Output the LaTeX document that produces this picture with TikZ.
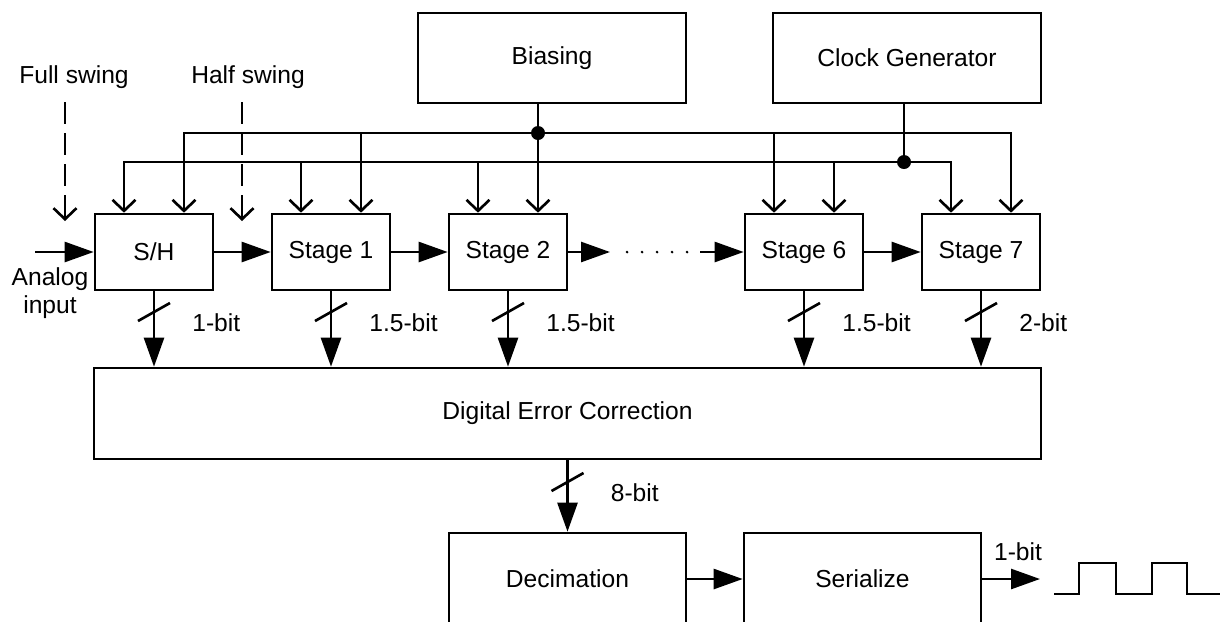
\documentclass[tikz,border=0pt]{standalone}
\usepackage{fontspec}
\setmainfont{Liberation Sans}
\usetikzlibrary{arrows.meta}
\begin{document}
\begin{tikzpicture}[x=0.2mm, y=-0.2mm, line width=1.5pt, font=\fontsize{14pt}{16pt}\selectfont,
  blk/.style={draw, inner sep=0pt, minimum width=23.6mm, minimum height=15.2mm},
  big/.style={draw, inner sep=0pt, minimum width=53.6mm, minimum height=18mm},
  low/.style={draw, inner sep=0pt, minimum width=47.4mm, minimum height=18.4mm},
  fwd/.style={-{Triangle[length=5.8mm, width=4mm]}},
  clk/.style={-{Straight Barb[length=2.2mm, width=4.6mm]}},
  swing/.style={clk, dash pattern=on 4.4mm off 1.8mm},
  tap/.style={circle, fill, inner sep=0pt, minimum size=2.8mm},
  bits/.style={anchor=west, inner sep=0pt}]
\useasboundingbox (0,0) rectangle (1220,621);
\clip (0,0) rectangle (1220,621);
\node[big] (bias) at (552,58) {Biasing};
\node[big] (clkgen) at (907,58) {Clock Generator};
\node[blk] (sh) at (154,252) {S/H};
\node[blk] (st1) at (331,252) {Stage 1};
\node[blk] (st2) at (508,252) {Stage 2};
\node[blk] (st6) at (804,252) {Stage 6};
\node[blk] (st7) at (981,252) {Stage 7};
\node[draw, inner sep=0pt, minimum width=189.4mm, minimum height=18.2mm] (dec) at (567.5,413.5) {Digital Error Correction};
\node[low] (deci) at (567.5,579) {Decimation};
\node[low] (ser) at (862.5,579) {Serialize};
\node (full) at (74,77) {Full swing};
\node (half) at (248,77) {Half swing};
\node[align=center, inner sep=0pt] (alab) at (50,293) {Analog\\input};
\node (obit) at (1018,552) {1-bit};
\coordinate (busA) at (0,133);
\coordinate (busB) at (0,162);
\foreach \s in {sh,st1,st2,st6,st7}{
  \coordinate (\s-l) at ([xshift=-6mm]\s.north);
  \coordinate (\s-r) at ([xshift=6mm]\s.north);
}
\node[tap] (bdot) at (st2-r |- busA) {};
\node[tap] (cdot) at ([xshift=-0.6mm]clkgen.south |- busB) {};
\draw (bias.south -| bdot) -- (bdot.center);
\draw[clk] (bdot.center) -- (st2-r);
\draw (clkgen.south -| cdot) -- (cdot.center);
\draw[clk] (bdot.center) -| (sh-r);
\draw[clk] (bdot.center) -| (st7-r);
\foreach \t in {st1-r,st6-l} \draw[clk] (\t |- busA) -- (\t);
\draw[clk] (cdot.center) -| (sh-l);
\draw[clk] (cdot.center) -| (st7-l);
\foreach \t in {st1-l,st2-l,st6-r} \draw[clk] (\t |- busB) -- (\t);
\coordinate (fs0) at (65,102);
\coordinate (fs1) at (65,221);
\coordinate (hs0) at (242,102);
\coordinate (hs1) at (242,221);
\draw[swing] (fs0) -- (fs1);
\draw[swing] (hs0) -- (hs1);
\coordinate (ain) at (35,252);
\coordinate (d1) at (610,252);
\coordinate (d2) at (700,252);
\draw[fwd] (ain) -- (sh);
\draw[fwd] (sh) -- (st1);
\draw[fwd] (st1) -- (st2);
\draw[fwd] (st2) -- (d1);
\draw[line width=1.7pt, line cap=round, dash pattern=on 0pt off 3mm] ([xshift=3.4mm]d1) -- ([xshift=-2.4mm]d2);
\draw[fwd] (d2) -- (st6);
\draw[fwd] (st6) -- (st7);
\foreach \s/\b in {sh/1-bit,st1/1.5-bit,st2/1.5-bit,st6/1.5-bit,st7/2-bit}{
  \draw[fwd] (\s) -- (\s |- dec.north);
  \draw ([shift={(-3.2mm,-1.8mm)}]\s.south |- 0,312) -- ++(6.4mm,3.6mm);
  \node[bits] at ([xshift=7.4mm]\s.south |- 0,323) {\b};
}
\draw[fwd] (dec.south -| deci) -- (deci);
\draw ([shift={(-3.2mm,-1.8mm)}]deci.north |- 0,482) -- ++(6.4mm,3.6mm);
\node[bits] at ([xshift=8.4mm]deci.north |- 0,493) {8-bit};
\draw[fwd] (deci) -- (ser);
\coordinate (out) at (1040,579);
\draw[fwd] (ser) -- (out);
\coordinate (wave) at (1054,594);
\draw (wave) -| ++(25,-31) -| ++(37,31) -| ++(36,-31) -| ++(35,31) -- ++(33,0);
\end{tikzpicture}
\end{document}
